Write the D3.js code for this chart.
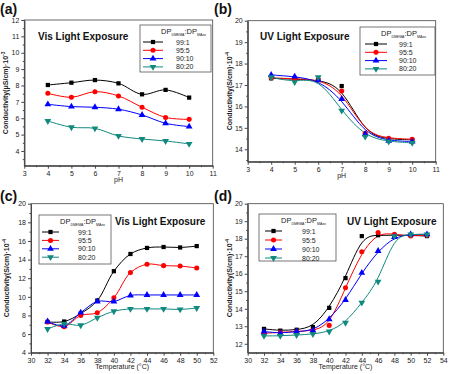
<!DOCTYPE html>
<html>
<head>
<meta charset="utf-8">
<script src="https://cdn.jsdelivr.net/npm/d3@7"></script>
<style>
  body { margin: 0; background: #fff; }
</style>
</head>
<body>
<div id="chart"></div>
<script>
// series labels (DPDMEMA:DPMAzo ratio)
var ratios = ["99:1", "95:5", "90:10", "80:20"];
var colors = ["#000000", "#ff0000", "#0000ff", "#11897e"];

// (a) vis light, conductivity vs pH
var phLevels = [4, 5, 6, 7, 8, 9, 10];
var visPh = [
  [8.03, 8.17, 8.33, 8.13, 7.46, 7.73, 7.26],
  [7.52, 7.28, 7.62, 7.36, 6.67, 6.05, 5.93],
  [6.85, 6.71, 6.67, 6.55, 6.2, 5.69, 5.49],
  [5.83, 5.45, 5.38, 4.92, 4.73, 4.61, 4.43]
];

// (b) UV light, conductivity vs pH
var uvPh = [
  [17.31, 17.27, 17.23, 16.95, 14.7, 14.47, 14.44],
  [17.34, 17.28, 17.27, 16.72, 14.75, 14.51, 14.47],
  [17.47, 17.39, 17.23, 16.35, 14.7, 14.4, 14.36],
  [17.36, 17.13, 17.36, 15.8, 14.59, 14.36, 14.3]
];

// (c) vis light, conductivity vs temperature
var visTemps = [32, 34, 36, 38, 40, 42, 44, 46, 48, 50];
var visTemp = [
  [7.3, 7.35, 8.2, 9.6, 12.75, 14.6, 15.25, 15.35, 15.3, 15.45],
  [7.3, 6.8, 8.0, 8.3, 9.9, 12.6, 13.5, 13.35, 13.3, 13.1],
  [7.35, 6.9, 8.3, 9.5, 9.5, 10.15, 10.2, 10.2, 10.2, 10.2],
  [6.55, 7.1, 6.95, 7.75, 8.45, 8.7, 8.7, 8.7, 8.65, 8.8]
];

// (d) UV light, conductivity vs temperature
var uvTemps = [32, 34, 36, 38, 40, 42, 44, 46, 48, 50, 52];
var uvTemp = [
  [12.85, 12.75, 12.8, 12.95, 14.05, 15.75, 18.15, 18.2, 18.2, 18.2, 18.15],
  [12.6, 12.65, 12.7, 12.75, 13.05, 15.2, 17.25, 18.35, 18.25, 18.15, 18.2],
  [12.7, 12.6, 12.7, 12.75, 13.4, 14.5, 16.05, 17.3, 18.1, 18.25, 18.25],
  [12.45, 12.45, 12.5, 12.55, 12.7, 13.2, 14.35, 15.55, 18.15, 18.25, 18.25]
];

var symbols = [d3.symbolSquare, d3.symbolCircle, d3.symbolTriangle, d3.symbolTriangle];
var rotations = [0, 0, 0, 180];

var svg = d3.select("#chart")
  .append("svg")
    .attr("width", 450)
    .attr("height", 374)
    .style("font-family", "'Liberation Sans', Arial, sans-serif");

function marker(sel, i, cx, cy) {
  sel.append("path")
    .attr("d", d3.symbol().type(symbols[i]).size(i == 0 ? 18 : 20))
    .attr("transform", "translate(" + cx + "," + cy + ") rotate(" + rotations[i] + ")")
    .attr("fill", colors[i]);
}

function drawPanel(p) {
  var x = d3.scaleLinear().domain(p.xDomain).range(p.xRange);
  var y = d3.scaleLinear().domain(p.yDomain).range(p.yRange);
  var g = svg.append("g");
  var fmt = d3.format("d");

  // frame
  g.append("rect")
    .attr("x", p.xRange[0])
    .attr("y", p.yRange[1])
    .attr("width", p.xRange[1] - p.xRange[0])
    .attr("height", p.yRange[0] - p.yRange[1])
    .attr("fill", "none")
    .attr("stroke", "#444")
    .attr("stroke-width", 0.8);

  // minor ticks
  g.append("g")
    .attr("transform", "translate(0," + p.yRange[0] + ")")
    .call(d3.axisBottom(x).tickValues(p.xMinor).tickFormat("").tickSize(1.5).tickSizeOuter(0));
  g.append("g")
    .attr("transform", "translate(" + p.xRange[0] + ",0)")
    .call(d3.axisLeft(y).tickValues(p.yMinor).tickFormat("").tickSize(1.5).tickSizeOuter(0));

  // main axes
  g.append("g")
    .attr("transform", "translate(0," + p.yRange[0] + ")")
    .call(d3.axisBottom(x).tickValues(p.xTicks).tickFormat(fmt).tickSize(3).tickPadding(2).tickSizeOuter(0));
  g.append("g")
    .attr("transform", "translate(" + p.xRange[0] + ",0)")
    .call(d3.axisLeft(y).tickValues(p.yTicks).tickFormat(fmt).tickSize(3).tickPadding(2).tickSizeOuter(0));

  g.selectAll(".domain").attr("stroke", "#444").attr("stroke-width", 0.8);
  g.selectAll(".tick line").attr("stroke", "#444");
  g.selectAll(".tick text").attr("font-size", "7px").attr("fill", "#222")
    .attr("font-family", "'Liberation Sans', Arial, sans-serif");

  // axis titles
  g.append("text")
    .attr("x", (p.xRange[0] + p.xRange[1]) / 2)
    .attr("y", p.yRange[0] + 16)
    .attr("text-anchor", "middle")
    .attr("font-size", "7px")
    .attr("fill", "#222")
    .text(p.xLabel);

  var yl = g.append("text")
    .attr("transform", "translate(" + p.yLabelX + "," + ((p.yRange[0] + p.yRange[1]) / 2) + ") rotate(-90)")
    .attr("text-anchor", "middle")
    .attr("font-size", "7px")
    .attr("font-weight", "bold")
    .attr("fill", "#222");
  yl.append("tspan").text(p.yLabel);
  yl.append("tspan").attr("dy", -3).attr("font-size", "5px").text(p.yExp);

  // series
  var line = d3.line()
    .x(function(d) { return x(d[0]); })
    .y(function(d) { return y(d[1]); })
    .curve(p.curve);

  p.values.forEach(function(vals, i) {
    var pts = vals.map(function(v, j) { return [p.xs[j], v]; });
    g.append("path")
      .datum(pts)
      .attr("d", line)
      .attr("fill", "none")
      .attr("stroke", colors[i])
      .attr("stroke-width", 1);
  });
  p.values.forEach(function(vals, i) {
    vals.forEach(function(v, j) {
      marker(g, i, x(p.xs[j]), y(v));
    });
  });

  // plot title
  g.append("text")
    .attr("x", p.titlePos[0])
    .attr("y", p.titlePos[1])
    .attr("font-size", "10px")
    .attr("font-weight", "bold")
    .attr("fill", "#111")
    .text(p.title);

  // panel letter
  g.append("text")
    .attr("x", p.letterPos[0])
    .attr("y", p.letterPos[1])
    .attr("font-size", "14px")
    .attr("font-weight", "bold")
    .attr("fill", "#111")
    .text(p.letter);

  // legend
  var L = p.legend;
  var lg = g.append("g");
  lg.append("rect")
    .attr("x", L.x).attr("y", L.y)
    .attr("width", L.w).attr("height", L.h)
    .attr("fill", "#fff")
    .attr("stroke", "#555")
    .attr("stroke-width", 0.8);
  var hd = lg.append("text")
    .attr("x", L.headX)
    .attr("y", L.y + 9)
    .attr("font-size", "7.5px")
    .attr("fill", "#222");
  hd.append("tspan").text("DP");
  hd.append("tspan").attr("dy", 2).attr("font-size", "3.5px").text(L.sub1);
  hd.append("tspan").attr("dy", -2).text(":DP");
  hd.append("tspan").attr("dy", 2).attr("font-size", "3.5px").text(L.sub2);
  ratios.forEach(function(r, i) {
    var ry = L.y + 17 + i * L.step;
    lg.append("line")
      .attr("x1", L.lineX[0]).attr("x2", L.lineX[1])
      .attr("y1", ry).attr("y2", ry)
      .attr("stroke", colors[i])
      .attr("stroke-width", 1);
    marker(lg, i, (L.lineX[0] + L.lineX[1]) / 2, ry);
    lg.append("text")
      .attr("x", L.textX)
      .attr("y", ry + 2.5)
      .attr("font-size", "7px")
      .attr("fill", "#222")
      .text(r);
  });
}

function range(a, b, s) { return d3.range(a, b + s / 2, s); }

drawPanel({
  xs: phLevels, values: visPh, curve: d3.curveCatmullRom,
  xDomain: [3, 11], xRange: [24.3, 212.7],
  yDomain: [3.1, 12], yRange: [165.7, 20],
  xTicks: range(3, 11, 1), xMinor: range(3.5, 10.5, 1),
  yTicks: range(4, 12, 1), yMinor: range(3.5, 11.5, 1),
  xLabel: "pH", yLabel: "Conductivity(\u03bcS/cm)\u00b710", yExp: "-3", yLabelX: 8,
  title: "Vis Light Exposure", titlePos: [38, 40],
  letter: "(a)", letterPos: [0, 14],
  legend: { x: 140, y: 25, w: 71, h: 47, headX: 161, sub1: "DMEMA", sub2: "MAzo",
            step: 8.3, lineX: [143, 163], textX: 176 }
});

drawPanel({
  xs: phLevels, values: uvPh, curve: d3.curveBasis,
  xDomain: [3, 11], xRange: [247.7, 435.7],
  yDomain: [13.42, 20], yRange: [161.7, 20.7],
  xTicks: range(3, 11, 1), xMinor: range(3.5, 10.5, 1),
  yTicks: range(14, 20, 1), yMinor: range(13.5, 19.5, 1),
  xLabel: "pH", yLabel: "Conductivity(S/cm)\u00b710", yExp: "-4", yLabelX: 232,
  title: "UV Light Exposure", titlePos: [260, 40],
  letter: "(b)", letterPos: [214, 14],
  legend: { x: 360, y: 27, w: 75, h: 48, headX: 381, sub1: "DMEMA", sub2: "MAzo",
            step: 8.3, lineX: [365, 387], textX: 399 }
});

drawPanel({
  xs: visTemps, values: visTemp, curve: d3.curveCatmullRom,
  xDomain: [30, 52], xRange: [31, 213.3],
  yDomain: [4, 20], yRange: [352.7, 203.7],
  xTicks: range(30, 52, 2), xMinor: range(31, 51, 2),
  yTicks: range(4, 20, 2), yMinor: range(5, 19, 2),
  xLabel: "Temperature (\u00b0C)", yLabel: "Conductivity(S/cm)\u00b710", yExp: "-4", yLabelX: 9,
  title: "Vis Light Exposure", titlePos: [115, 225],
  letter: "(c)", letterPos: [0, 201],
  legend: { x: 39, y: 215, w: 72, h: 49, headX: 60, sub1: "DMEMA", sub2: "MAzo",
            step: 8.4, lineX: [42, 59], textX: 78 }
});

drawPanel({
  xs: uvTemps, values: uvTemp, curve: d3.curveBasis,
  xDomain: [30, 54], xRange: [247.7, 443.3],
  yDomain: [11.49, 20], yRange: [352.7, 203.7],
  xTicks: range(30, 54, 2), xMinor: range(31, 53, 2),
  yTicks: range(12, 20, 1), yMinor: range(12.5, 19.5, 1),
  xLabel: "Temperature (\u00b0C)", yLabel: "Conductivity(S/cm)\u00b710", yExp: "-4", yLabelX: 232,
  title: "UV Light Exposure", titlePos: [347, 225],
  letter: "(d)", letterPos: [214, 201],
  legend: { x: 259, y: 214, w: 77, h: 47, headX: 281, sub1: "DMEMA", sub2: "MAzo",
            step: 9, lineX: [265, 282], textX: 302 }
});
</script>
</body>
</html>
